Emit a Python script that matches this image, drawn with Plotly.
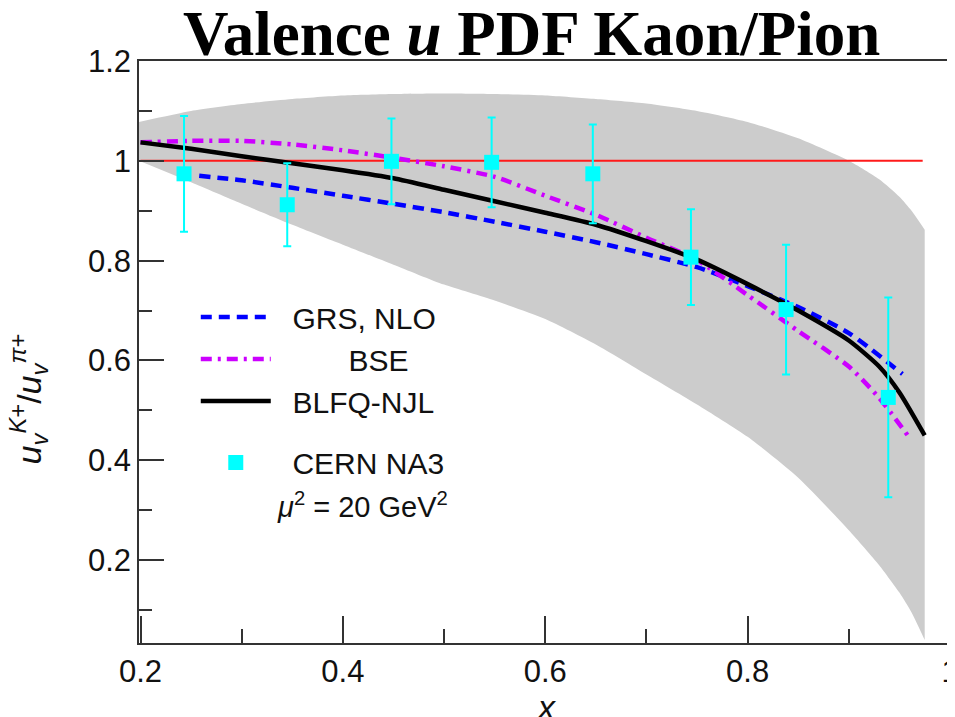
import plotly.graph_objects as go

# ---------------- data ----------------
band_x = [0.1985, 0.25, 0.3, 0.35, 0.4, 0.45, 0.5, 0.55, 0.6, 0.65, 0.7, 0.75, 0.8, 0.85, 0.9, 0.93, 0.95, 0.962, 0.975]
band_upper = [1.078, 1.100, 1.114, 1.124, 1.131, 1.134, 1.135, 1.134, 1.131, 1.124, 1.115, 1.100, 1.078, 1.045, 1.000, 0.963, 0.928, 0.900, 0.862]
band_lower = [1.000, 0.957, 0.914, 0.872, 0.832, 0.792, 0.752, 0.720, 0.683, 0.632, 0.572, 0.512, 0.447, 0.365, 0.260, 0.190, 0.135, 0.095, 0.040]

ref_x = [0.2, 0.973]
ref_y = [1.0, 1.0]

grs_x = [0.258, 0.3, 0.35, 0.4, 0.45, 0.5, 0.55, 0.6, 0.65, 0.7, 0.75, 0.8, 0.85, 0.9, 0.953]
grs_y = [0.970, 0.961, 0.946, 0.930, 0.914, 0.897, 0.878, 0.858, 0.837, 0.813, 0.787, 0.749, 0.707, 0.655, 0.573]

bse_x = [0.2, 0.25, 0.3, 0.35, 0.4, 0.45, 0.5, 0.55, 0.6, 0.65, 0.7, 0.75, 0.8, 0.85, 0.9, 0.93, 0.96]
bse_y = [1.037, 1.040, 1.040, 1.033, 1.021, 1.006, 0.989, 0.968, 0.930, 0.892, 0.846, 0.801, 0.731, 0.659, 0.588, 0.525, 0.445]

blfq_x = [0.2, 0.25, 0.3, 0.35, 0.4, 0.45, 0.5, 0.55, 0.6, 0.65, 0.7, 0.75, 0.8, 0.85, 0.9, 0.93, 0.95, 0.975]
blfq_y = [1.037, 1.024, 1.009, 0.995, 0.981, 0.965, 0.942, 0.919, 0.896, 0.872, 0.839, 0.802, 0.753, 0.700, 0.640, 0.588, 0.536, 0.450]

na3_x = [0.243, 0.345, 0.448, 0.547, 0.647, 0.744, 0.838, 0.939]
na3_y = [0.974, 0.912, 0.999, 0.997, 0.974, 0.807, 0.702, 0.526]
na3_err = [0.116, 0.083, 0.086, 0.090, 0.099, 0.096, 0.130, 0.200]

x_ticks = [0.2, 0.4, 0.6, 0.8, 1.0]
x_ticklabels = ["0.2", "0.4", "0.6", "0.8", "1"]
y_ticks = [0.2, 0.4, 0.6, 0.8, 1.0, 1.2]
y_ticklabels = ["0.2", "0.4", "0.6", "0.8", "1", "1.2"]

# ---------------- figure ----------------
fig = go.Figure()

# uncertainty band: lower edge, then upper edge filled down to it
fig.add_trace(go.Scatter(
    x=band_x, y=band_lower, mode="lines",
    line=dict(width=0, color="#cccccc", shape="spline", smoothing=0.6),
    showlegend=False, hoverinfo="skip"))
fig.add_trace(go.Scatter(
    x=band_x, y=band_upper, mode="lines", fill="tonexty", fillcolor="#cccccc",
    line=dict(width=0, color="#cccccc", shape="spline", smoothing=0.6),
    showlegend=False, hoverinfo="skip"))

fig.add_trace(go.Scatter(
    x=ref_x, y=ref_y, mode="lines", line=dict(color="#ff1a1a", width=2),
    showlegend=False, hoverinfo="skip"))

NB = "\u00a0"

fig.add_trace(go.Scatter(
    x=grs_x, y=grs_y, mode="lines", name=NB * 2 + "GRS, NLO",
    line=dict(color="#0000ff", width=4.5, dash="11px,7px", shape="spline", smoothing=0.6),
    legend="legend"))

fig.add_trace(go.Scatter(
    x=bse_x, y=bse_y, mode="lines", name=NB * 8 + "\u2009BSE",
    line=dict(color="#cc00ff", width=4.5, dash="11px,6px,3px,6px", shape="spline", smoothing=0.6),
    legend="legend"))

fig.add_trace(go.Scatter(
    x=blfq_x, y=blfq_y, mode="lines", name=NB * 2 + "BLFQ-NJL",
    line=dict(color="#000000", width=4.5, shape="spline", smoothing=0.6),
    legend="legend"))

fig.add_trace(go.Scatter(
    x=na3_x, y=na3_y, mode="markers", name=NB * 2 + "CERN NA3",
    marker=dict(symbol="square", size=15, color="#00ffff", line=dict(width=0)),
    error_y=dict(type="data", array=na3_err, color="#00ffff", thickness=2, width=4),
    legend="legend2"))

axis_common = dict(
    showline=True, linecolor="#333333", linewidth=1.5, mirror=True,
    ticks="inside", tickcolor="#333333", tickwidth=1.5,
    showgrid=False, zeroline=False, automargin=False,
    ticklabeloverflow="allow",
    tickfont=dict(family="Liberation Sans, Arial, sans-serif", size=31, color="#111111"),
)

# the page body adds an 8px offset, so the figure is 8px smaller than the window
fig.update_layout(
    width=947, height=709,
    margin=dict(l=131, r=5, t=53, b=74, autoexpand=False),
    paper_bgcolor="white", plot_bgcolor="white",
    title=dict(
        text="<b>Valence <i>u</i> PDF Kaon/Pion</b>",
        font=dict(family="Liberation Serif, Times New Roman, serif", size=63, color="black"),
        x=0.553, xanchor="center", xref="container",
        y=0.965, yanchor="middle", yref="container", automargin=False),
    xaxis=dict(
        range=[0.1985, 1.0], tickvals=x_ticks, ticktext=x_ticklabels, ticklen=27,
        minor=dict(ticks="inside", ticklen=14, tickvals=[0.3, 0.5, 0.7, 0.9],
                   tickcolor="#333333", tickwidth=1.5),
        ticklabelstandoff=0,
        **axis_common),
    yaxis=dict(
        range=[0.034, 1.2], tickvals=y_ticks, ticktext=y_ticklabels, ticklen=25,
        minor=dict(ticks="inside", ticklen=13, tickvals=[0.1, 0.3, 0.5, 0.7, 0.9, 1.1],
                   tickcolor="#333333", tickwidth=1.5),
        ticklabelstandoff=0,
        **axis_common),
    legend=dict(
        x=0.07, y=0.605, xanchor="left", yanchor="top", traceorder="normal",
        bgcolor="rgba(0,0,0,0)", borderwidth=0,
        font=dict(family="Liberation Sans, Arial, sans-serif", size=30, color="#111111"),
        itemwidth=70, tracegroupgap=0),
    legend2=dict(
        x=0.07, y=0.355, xanchor="left", yanchor="top", traceorder="normal",
        bgcolor="rgba(0,0,0,0)", borderwidth=0,
        font=dict(family="Liberation Sans, Arial, sans-serif", size=30, color="#111111"),
        itemwidth=70),
    annotations=[
        dict(text="<i>u</i><sub><i>v</i></sub><sup><i>K</i>+</sup>/<i>u</i><sub><i>v</i></sub><sup><i>π</i>+</sup>",
             xref="paper", yref="paper", x=-0.137, y=0.42, xanchor="center", yanchor="middle",
             textangle=-90, showarrow=False,
             font=dict(family="Liberation Sans, Arial", size=34, color="#111111")),
        dict(text="<i>x</i>",
             xref="paper", yref="paper", x=0.502, y=-0.11, xanchor="center", yanchor="middle",
             showarrow=False,
             font=dict(family="Liberation Sans, Arial", size=34, color="#111111")),
        dict(text="<i>μ</i><sup>2</sup> = 20 GeV<sup>2</sup>",
             xref="paper", yref="paper", x=0.168, y=0.237, xanchor="left", yanchor="middle",
             showarrow=False,
             font=dict(family="Liberation Sans, Arial", size=29, color="#111111")),
    ],
    showlegend=True,
)

fig.write_html("out.html")
